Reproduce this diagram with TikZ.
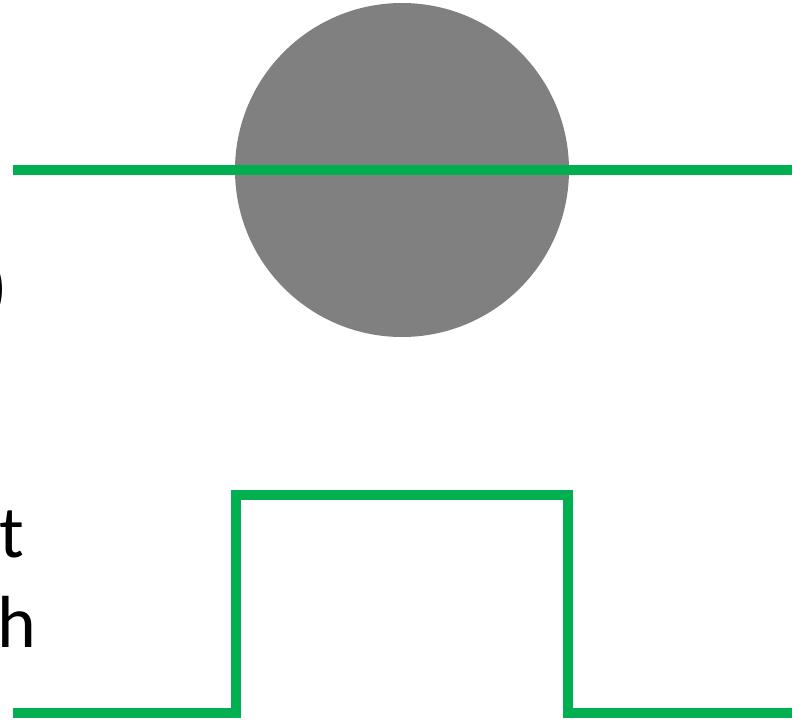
\documentclass[tikz,border=0pt]{standalone}
\usepackage{fontspec}
\setmainfont{Carlito}
\usepackage{xcolor}
\usetikzlibrary{positioning,calc}
\definecolor{sigGreen}{HTML}{00B050}
\definecolor{ballGray}{HTML}{808080}

\begin{document}
\begin{tikzpicture}[
  x=0.02cm, y=-0.02cm,
  sig/.style={draw=sigGreen, line width=10*0.02cm, miter limit=2},
  ball/.style={fill=ballGray, draw=none},
  lbl/.style={inner sep=0pt, font=\fontsize{42}{50}\selectfont}
]
  \useasboundingbox (0,0) rectangle (802,721);
  % the ball, cut by the beam
  \fill[ball] (402,170) circle[radius=167];
  \coordinate (bL) at (13,170);
  \coordinate (bR) at (792,170);
  \draw[sig] (bL) -- (bR);

  % cut-off labels on the left edge
  \node[lbl, anchor=east] (p) at (8,290) {)};
  \node[lbl, anchor=base west] (t) at (-1,557) {t};
  \node[lbl, anchor=base west] (h) at (-3,647) {h};

  % pulse
  \coordinate (s0) at (13,713);
  \coordinate (s1) at (236,713);
  \coordinate (s2) at (236,495);
  \coordinate (s3) at (568,495);
  \coordinate (s4) at (568,713);
  \coordinate (s5) at (792,713);
  \draw[sig] (s0) -- (s1) -- (s2) -- (s3) -- (s4) -- (s5);
\end{tikzpicture}
\end{document}
